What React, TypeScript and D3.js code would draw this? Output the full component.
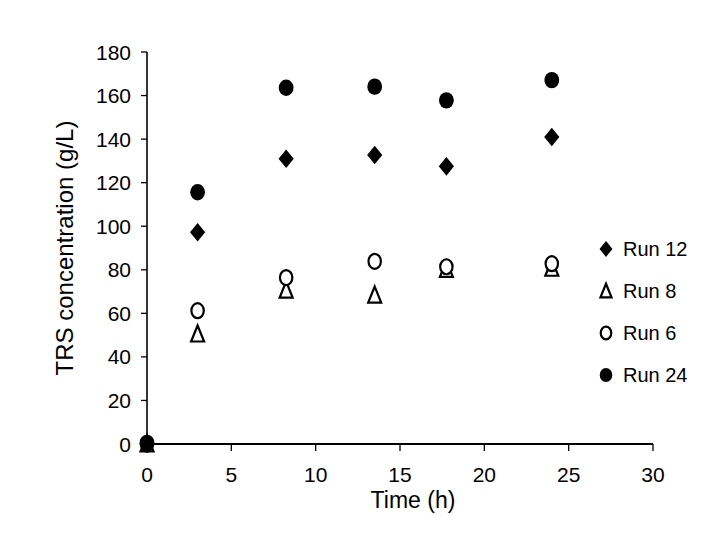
import { useEffect, useRef } from 'react';
import * as d3 from 'd3';

// sampling times (h)
const times = [0, 3, 8.25, 13.5, 17.75, 24];

// TRS concentration (g/L) per run
const run12 = [0, 97.2, 131.0, 132.7, 127.5, 141.0];
const run8 = [0, 50.5, 70.7, 68.4, 80.2, 80.7];
const run6 = [0, 61.2, 76.4, 83.9, 81.4, 82.8];
const run24 = [0.5, 115.6, 163.6, 164.1, 157.8, 167.1];

const seriesNames = ['Run 12', 'Run 8', 'Run 6', 'Run 24'];
const seriesShapes = ['diamond', 'triangle', 'circle', 'dot'];

const xTicks = [0, 5, 10, 15, 20, 25, 30];
const yTicks = [0, 20, 40, 60, 80, 100, 120, 140, 160, 180];

const FONT = '"Liberation Sans", Arial, Helvetica, sans-serif';

// draw one marker shape centred on (cx, cy)
const drawMarker = (g: any, shape: string, cx: number, cy: number, k = 1) => {
  if (shape === 'diamond') {
    g.append('path')
      .attr('d', `M${cx},${cy - 9.3 * k}L${cx + 7.6 * k},${cy}L${cx},${cy + 9.3 * k}L${cx - 7.6 * k},${cy}Z`)
      .attr('fill', '#000');
  } else if (shape === 'triangle') {
    g.append('path')
      .attr('d', `M${cx},${cy - 8.5 * k}L${cx + 6.5 * k},${cy + 7.5 * k}L${cx - 6.5 * k},${cy + 7.5 * k}Z`)
      .attr('fill', '#fff')
      .attr('stroke', '#000')
      .attr('stroke-width', 2.2)
      .attr('stroke-linejoin', 'miter');
  } else if (shape === 'circle') {
    g.append('ellipse')
      .attr('cx', cx).attr('cy', cy)
      .attr('rx', 6.2 * k).attr('ry', 7.5 * k)
      .attr('fill', '#fff')
      .attr('stroke', '#000')
      .attr('stroke-width', 2.2);
  } else {
    g.append('ellipse')
      .attr('cx', cx).attr('cy', cy)
      .attr('rx', 7.4 * k).attr('ry', 8.2 * k)
      .attr('fill', '#000');
  }
};

const App = () => {
  const svgRef = useRef<SVGSVGElement | null>(null);

  useEffect(() => {
    if (!svgRef.current) return;
    const svg = d3.select(svgRef.current);
    svg.selectAll('*').remove();

    const x = d3.scaleLinear().domain([0, 30]).range([147, 653]);
    const y = d3.scaleLinear().domain([0, 180]).range([444, 52]);

    const axes = svg.append('g').attr('stroke', '#000').attr('fill', 'none');

    // y axis
    axes.append('line')
      .attr('x1', x(0)).attr('x2', x(0))
      .attr('y1', y(180)).attr('y2', y(0))
      .attr('stroke-width', 1.6);
    yTicks.forEach(t => {
      axes.append('line')
        .attr('x1', x(0) - 6).attr('x2', x(0))
        .attr('y1', y(t)).attr('y2', y(t))
        .attr('stroke-width', 1.3);
    });

    // x axis
    axes.append('line')
      .attr('x1', x(0)).attr('x2', x(30))
      .attr('y1', y(0)).attr('y2', y(0))
      .attr('stroke-width', 2);
    xTicks.forEach(t => {
      axes.append('line')
        .attr('x1', x(t)).attr('x2', x(t))
        .attr('y1', y(0)).attr('y2', y(0) + 7)
        .attr('stroke-width', 1.3);
    });

    const labels = svg.append('g')
      .attr('font-family', FONT)
      .attr('fill', '#000');

    labels.selectAll('.ytick')
      .data(yTicks)
      .join('text')
      .attr('x', 131)
      .attr('y', d => y(d))
      .attr('dy', '0.36em')
      .attr('text-anchor', 'end')
      .attr('font-size', 21)
      .text(d => d);

    labels.selectAll('.xtick')
      .data(xTicks)
      .join('text')
      .attr('x', d => x(d))
      .attr('y', 482)
      .attr('text-anchor', 'middle')
      .attr('font-size', 21)
      .text(d => d);

    labels.append('text')
      .attr('x', 413)
      .attr('y', 508)
      .attr('text-anchor', 'middle')
      .attr('font-size', 23)
      .text('Time (h)');

    labels.append('text')
      .attr('transform', `translate(73,${(y(0) + y(180)) / 2}) rotate(-90)`)
      .attr('text-anchor', 'middle')
      .attr('font-size', 24)
      .text('TRS concentration (g/L)');

    // data markers
    const allSeries = [run12, run8, run6, run24];
    const marks = svg.append('g');
    allSeries.forEach((vals, i) => {
      vals.forEach((v, j) => {
        drawMarker(marks, seriesShapes[i], x(times[j]), y(v));
      });
    });

    // legend
    const legend = svg.append('g');
    seriesNames.forEach((name, i) => {
      const ly = 249 + i * 42;
      drawMarker(legend, seriesShapes[i], 606, ly, 0.85);
      legend.append('text')
        .attr('x', 623)
        .attr('y', ly)
        .attr('dy', '0.36em')
        .attr('font-family', FONT)
        .attr('font-size', 20)
        .attr('fill', '#000')
        .text(name);
    });
  }, []);

  return (
    <svg
      ref={svgRef}
      width={725}
      height={542}
      style={{ position: 'absolute', left: 0, top: 0, background: '#fff' }}
    />
  );
};

export default App;
